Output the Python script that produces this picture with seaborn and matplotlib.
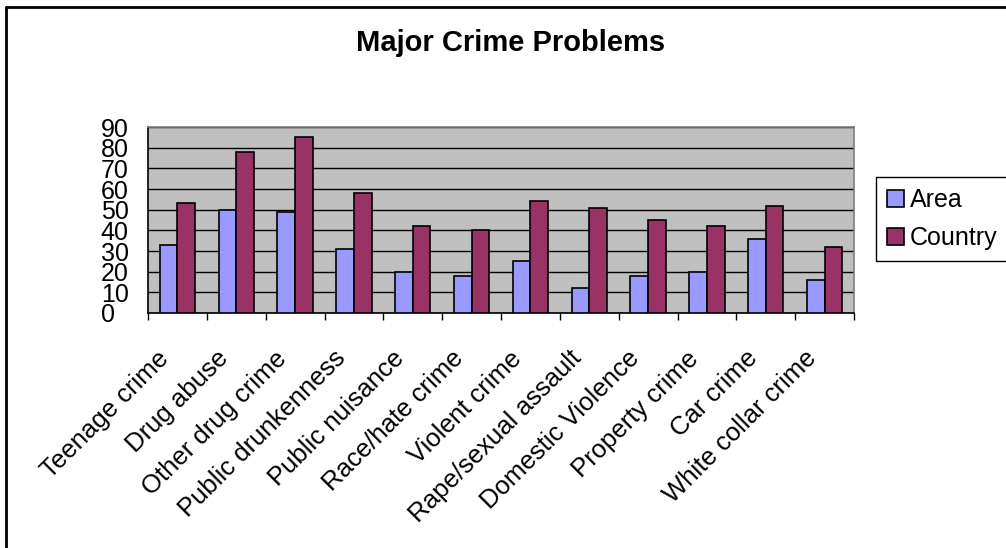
import matplotlib
matplotlib.use("Agg")
import matplotlib.pyplot as plt
import matplotlib.transforms as mtransforms
from matplotlib.lines import Line2D
from matplotlib.ticker import FixedLocator, MultipleLocator
import numpy as np
import pandas as pd
import seaborn as sns

categories = [
    "Teenage crime", "Drug abuse", "Other drug crime", "Public drunkenness",
    "Public nuisance", "Race/hate crime", "Violent crime", "Rape/sexual assault",
    "Domestic Violence", "Property crime", "Car crime", "White collar crime",
]
area = [33, 50, 49, 31, 20, 18, 25, 12, 18, 20, 36, 16]
country = [53, 78, 85, 58, 42, 40, 54, 51, 45, 42, 52, 32]
series_names = ["Area", "Country"]
series_colors = ["#9999FF", "#993366"]

df = pd.DataFrame({
    "category": categories * 2,
    "value": area + country,
    "series": [series_names[0]] * len(categories) + [series_names[1]] * len(categories),
})

sns.set_theme(style="white")
plt.rcParams["font.family"] = ["Liberation Sans", "DejaVu Sans"]
plt.rcParams["text.color"] = "black"
plt.rcParams["xtick.color"] = "black"
plt.rcParams["ytick.color"] = "black"
plt.rcParams["xtick.labelcolor"] = "black"
plt.rcParams["ytick.labelcolor"] = "black"

fig = plt.figure(figsize=(10.06, 5.48), dpi=100)
W, H = 1006, 548
ax = fig.add_axes([148 / W, 1 - 313 / H, (854 - 148) / W, (313 - 127) / H])
ax.set_facecolor("#C0C0C0")

sns.barplot(
    data=df, x="category", y="value", hue="series", order=categories,
    hue_order=series_names, palette=series_colors, width=0.6,
    edgecolor="black", linewidth=1.2, saturation=1, ax=ax, legend=True,
    zorder=3,
)

ax.set_xlim(-0.5, len(categories) - 0.5)
ax.set_ylim(0, 90)
ax.yaxis.set_major_locator(MultipleLocator(10))
ax.grid(axis="y", color="black", linewidth=1.0, zorder=1)
ax.set_axisbelow(True)
ax.set_xlabel("")
ax.set_ylabel("")

for name, sp in ax.spines.items():
    sp.set_visible(True)
    sp.set_color("#808080")
    sp.set_linewidth(1.2)
ax.spines["left"].set_color("black")
ax.spines["bottom"].set_color("black")

# y ticks: outward marks, labels left-aligned in a column
ax.tick_params(axis="y", which="major", direction="out", length=6, width=1,
               color="black", labelsize=18, labelcolor="black", pad=28)
for lbl in ax.get_yticklabels():
    lbl.set_horizontalalignment("left")

# x axis: boundary tick marks, diagonal category labels
ax.xaxis.set_minor_locator(FixedLocator(np.arange(-0.5, len(categories), 1.0)))
ax.tick_params(axis="x", which="minor", direction="out", length=5, width=1,
               color="black", bottom=True)
ax.tick_params(axis="x", which="major", length=0, labelsize=18.5,
               labelcolor="black", pad=30)
ax.set_xticks(range(len(categories)))
ax.set_xticklabels(categories, rotation=45, ha="right", va="center",
                   rotation_mode="anchor")
shift = mtransforms.ScaledTranslation(-12 / 100, 0, fig.dpi_scale_trans)
for lbl in ax.get_xticklabels():
    lbl.set_transform(lbl.get_transform() + shift)

fig.text(511 / W, 1 - 43 / H, "Major Crime Problems", ha="center", va="center",
         fontsize=21, fontweight="bold", color="black")

leg = ax.legend(
    loc="upper left", bbox_to_anchor=(876 / W, 1 - 177 / H),
    bbox_transform=fig.transFigure, fontsize=18, frameon=True, fancybox=False,
    edgecolor="black", framealpha=1, handlelength=0.65, handleheight=0.65,
    handletextpad=0.25, labelspacing=0.55, borderpad=0.45, borderaxespad=0,
)
leg.get_frame().set_linewidth(1.0)
for t in leg.get_texts():
    t.set_color("black")

# chart border (top and left edges)
fig.add_artist(Line2D([6 / W, 1.0], [1 - 7 / H, 1 - 7 / H], transform=fig.transFigure,
                      color="black", linewidth=2))
fig.add_artist(Line2D([6 / W, 6 / W], [0.0, 1 - 7 / H], transform=fig.transFigure,
                      color="black", linewidth=2))

fig.savefig("out.png", dpi=100, facecolor="white")
